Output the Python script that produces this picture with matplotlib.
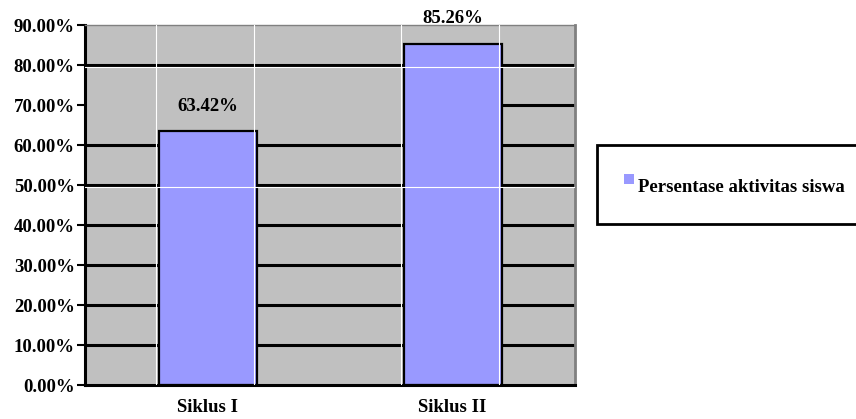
import numpy as np
import matplotlib
matplotlib.use("Agg")
import matplotlib.pyplot as plt
from matplotlib.patches import Rectangle

# data
categories = ["Siklus I", "Siklus II"]
values = [63.42, 85.26]
series_name = "Persentase aktivitas siswa"
yticks = [0, 10, 20, 30, 40, 50, 60, 70, 80, 90]

W, H = 856, 419
plt.rcParams['font.family'] = ['Liberation Serif', 'DejaVu Serif']
plt.rcParams['font.weight'] = 'bold'
fs = 13.5

fig = plt.figure(figsize=(W / 100, H / 100), dpi=100)
ax = fig.add_axes([85 / W, 1 - 385 / H, 490 / W, 360 / H])
ax.set_facecolor('#C0C0C0')

x = np.arange(len(categories))
bw = 0.4
bar_color = '#9999FF'

# black gridlines (the 70 line only shows right of the second bar)
for v in yticks[1:-1]:
    if v == 70:
        ax.plot([x[-1] + bw / 2, 1.5], [v, v], color='black', lw=2.2, zorder=1,
                solid_capstyle='butt')
    else:
        ax.axhline(v, color='black', lw=2.2, zorder=1)

bars = ax.bar(x, values, width=bw, color=bar_color, edgecolor='black',
              linewidth=1.6, zorder=2)

# thin white lines drawn over everything
for v in [50, 80]:
    ax.axhline(v - 0.4, color='white', lw=0.8, zorder=3)
for xi in x:
    ax.axvline(xi - bw / 2 - 0.01, color='white', lw=0.8, zorder=3)
    ax.axvline(xi + bw / 2 - 0.01, color='white', lw=0.8, zorder=3)

for b, v in zip(bars, values):
    ax.annotate(f"{v:.2f}%", (b.get_x() + b.get_width() / 2, v),
                xytext=(0, 12), textcoords='offset points',
                ha='center', va='bottom', fontsize=fs, fontweight='bold',
                annotation_clip=False)

ax.set_xlim(-0.5, 1.5)
ax.set_ylim(0, 90)
ax.set_yticks(yticks)
ax.set_yticklabels([f"{v:.2f}%" for v in yticks], fontsize=fs, fontweight='bold')
ax.set_xticks(x)
ax.set_xticklabels(categories, fontsize=fs, fontweight='bold')
ax.tick_params(axis='y', length=5.8, width=1.5, pad=1.5, color='black')
ax.tick_params(axis='x', length=0, pad=10)

ax.spines['left'].set_linewidth(2.2)
ax.spines['bottom'].set_linewidth(2.2)
ax.spines['top'].set_color('#808080')
ax.spines['top'].set_linewidth(1)
ax.spines['right'].set_color('#808080')
ax.spines['right'].set_linewidth(2)

# legend box
def fx(px):
    return px / W

def fy(py):
    return 1 - py / H

fig.add_artist(Rectangle((fx(597), fy(224)), fx(870) - fx(597), fy(145) - fy(224),
                         transform=fig.transFigure, facecolor='white',
                         edgecolor='black', lw=2, clip_on=False))
fig.add_artist(Rectangle((fx(624), fy(184)), fx(634) - fx(624), fy(174) - fy(184),
                         transform=fig.transFigure, facecolor=bar_color,
                         edgecolor='none'))
fig.text(fx(638), fy(192), series_name, fontsize=fs, fontweight='bold',
         ha='left', va='baseline')

fig.savefig("out.png", dpi=100)
